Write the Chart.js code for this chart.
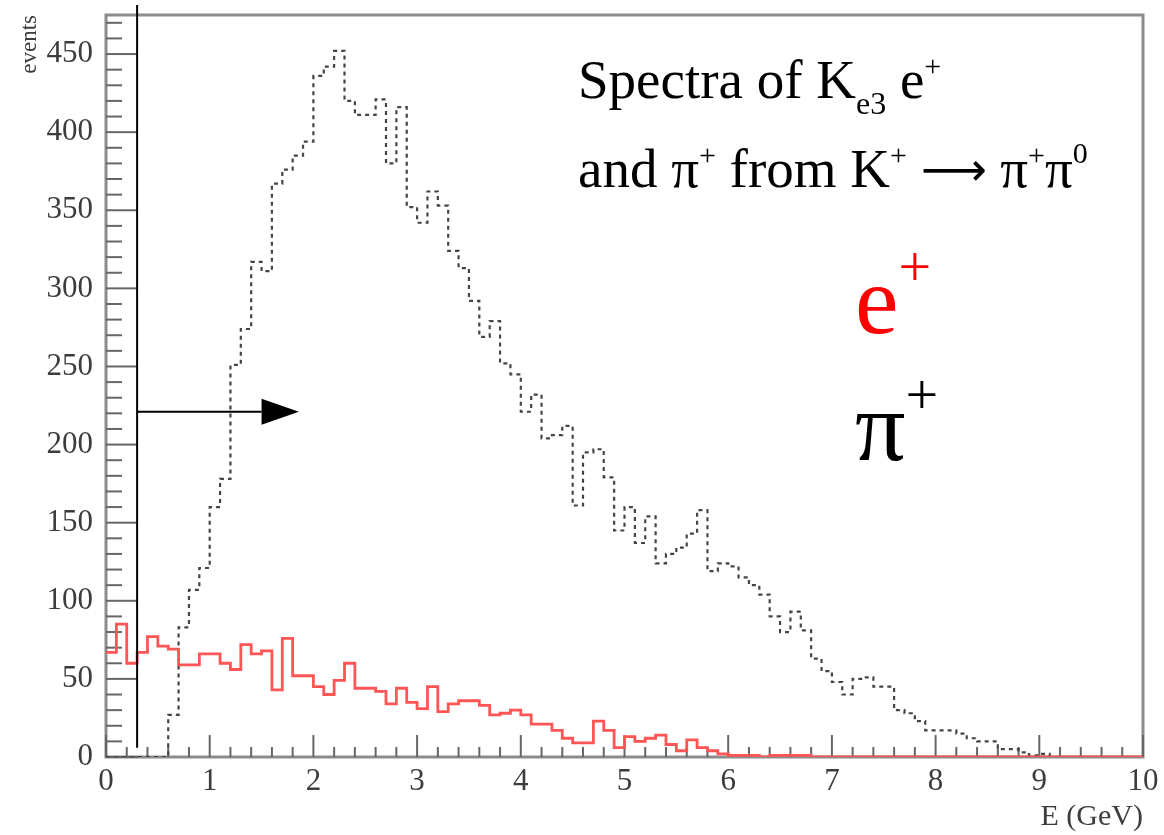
<!DOCTYPE html>
<html>
<head>
<meta charset="utf-8">
<script src="https://cdn.jsdelivr.net/npm/chart.js@4.4.1/dist/chart.umd.min.js"></script>
<style>
html, body { margin: 0; padding: 0; background: #fff; }
</style>
</head>
<body>
<canvas id="myChart" width="1164" height="835"></canvas>
<script>
// histogram bins: 100 bins of 0.1 GeV from 0 to 10
const bin_width = 0.1;
const x_ticks = [0, 1, 2, 3, 4, 5, 6, 7, 8, 9, 10];
const y_ticks = [0, 50, 100, 150, 200, 250, 300, 350, 400, 450];

// pi+ from K+ -> pi+ pi0 (dotted)
const pi_counts = [
  0, 0, 0, 0, 0, 0, 27, 83, 107, 121,
  160, 178, 251, 274, 317, 311, 367, 376, 385, 394,
  436, 442, 452, 420, 411, 411, 421, 380, 416, 352,
  342, 362, 353, 324, 313, 292, 269, 279, 252, 245,
  221, 232, 204, 206, 212, 161, 195, 197, 179, 145,
  160, 137, 154, 124, 130, 134, 143, 158, 119, 124,
  122, 115, 110, 104, 90, 80, 93, 81, 63, 55,
  48, 40, 50, 51, 45, 45, 30, 28, 23, 17,
  17, 17, 15, 12, 10, 10, 5, 5, 3, 1,
  2, 0, 0, 0, 0, 0, 0, 0, 0, 0
];

// Ke3 e+ (red)
const e_counts = [
  67, 85, 60, 67, 77, 71, 69, 59, 59, 66,
  66, 60, 56, 72, 66, 68, 43, 76, 52, 52,
  45, 40, 49, 60, 44, 44, 42, 34, 44, 35,
  31, 45, 29, 34, 36, 36, 33, 27, 28, 30,
  27, 21, 21, 17, 12, 9, 9, 23, 17, 6,
  13, 10, 12, 14, 8, 4, 11, 6, 4, 2,
  1, 1, 1, 0, 1, 1, 1, 1, 0, 0,
  0, 0, 0, 0, 0, 0, 0, 0, 0, 0,
  0, 0, 0, 0, 0, 0, 0, 0, 0, 0,
  0, 0, 0, 0, 0, 0, 0, 0, 0, 0
];

// cut line and arrow (in axis units)
const cut_energy = 0.3;
const cut_bottom = 6;
const arrow_level = 221;
const arrow_head_start = 1.5;
const arrow_tip = 1.86;

const serif = '"Liberation Serif", "DejaVu Serif", serif';

function to_points(counts) {
  pts = [];
  for (i = 0; i < counts.length; i++) {
    pts.push({x: i * bin_width, y: counts[i]});
  }
  pts.push({x: counts.length * bin_width, y: counts[counts.length - 1]});
  return pts;
}

function draw_rich(ctx, x, y, parts, color) {
  ctx.fillStyle = color;
  ctx.textAlign = 'left';
  ctx.textBaseline = 'alphabetic';
  for (const p of parts) {
    ctx.font = p[1] + 'px ' + (p[3] || serif);
    ctx.fillText(p[0], x, y + (p[2] || 0));
    x += ctx.measureText(p[0]).width;
  }
}

const root_frame = {
  id: 'root_frame',
  beforeDatasetsDraw: (chart) => {
    const ctx = chart.ctx;
    const a = chart.chartArea;
    const xs = chart.scales.x, ys = chart.scales.y;
    ctx.save();
    ctx.strokeStyle = '#8c8c8c';
    ctx.lineWidth = 3;
    ctx.strokeRect(a.left, a.top, a.right - a.left, a.bottom - a.top);
    ctx.strokeStyle = '#666';
    ctx.lineWidth = 2;
    // x ticks inside, major each 1, minor each 0.2
    for (i = 0; i <= 50; i++) {
      const px = xs.getPixelForValue(i * 0.2);
      const len = (i % 5 == 0) ? 22 : 10;
      ctx.beginPath();
      ctx.moveTo(px, a.bottom);
      ctx.lineTo(px, a.bottom - len);
      ctx.stroke();
    }
    // y ticks inside, major each 50, minor each 10
    for (i = 0; i * 10 <= ys.max; i++) {
      const py = ys.getPixelForValue(i * 10);
      const len = (i % 5 == 0) ? 32 : 16;
      ctx.beginPath();
      ctx.moveTo(a.left, py);
      ctx.lineTo(a.left + len, py);
      ctx.stroke();
    }
    ctx.restore();
  },
  afterDatasetsDraw: (chart) => {
    const ctx = chart.ctx;
    const a = chart.chartArea;
    const xs = chart.scales.x, ys = chart.scales.y;
    ctx.save();
    // cut line
    const cx = xs.getPixelForValue(cut_energy);
    ctx.strokeStyle = '#000';
    ctx.lineWidth = 2;
    ctx.beginPath();
    ctx.moveTo(cx, a.top - 10);
    ctx.lineTo(cx, ys.getPixelForValue(cut_bottom));
    ctx.stroke();
    // arrow
    const ay = ys.getPixelForValue(arrow_level);
    const hx = xs.getPixelForValue(arrow_head_start);
    const tx = xs.getPixelForValue(arrow_tip);
    ctx.beginPath();
    ctx.moveTo(cx, ay);
    ctx.lineTo(hx, ay);
    ctx.stroke();
    ctx.fillStyle = '#000';
    ctx.beginPath();
    ctx.moveTo(tx, ay);
    ctx.lineTo(hx, ay - 13);
    ctx.lineTo(hx, ay + 13);
    ctx.closePath();
    ctx.fill();

    // captions
    draw_rich(ctx, 578, 98, [['Spectra of K', 55], ['e3', 32, 16], [' e', 55], ['+', 30, -22]], '#000');
    draw_rich(ctx, 578, 187, [['and π', 55], ['+', 30, -22], [' from K', 55], ['+', 30, -22],
      [' ', 55], ['⟶', 46, -2, '"DejaVu Sans", sans-serif'], [' π', 55], ['+', 30, -22], ['π', 55], ['0', 30, -24]], '#000');
    draw_rich(ctx, 855, 333, [['e', 98], ['+', 58, -47]], '#ff0000');
    draw_rich(ctx, 855, 460, [['π', 100], ['+', 58, -46]], '#000');
    ctx.restore();
  }
};

var the_chart_canvas = document.getElementById('myChart').getContext('2d');
var myChart = new Chart(the_chart_canvas, {
  type: 'line',
  data: {
    datasets: [
      {
        label: 'e+',
        data: to_points(e_counts),
        stepped: 'before',
        borderColor: '#ff5555',
        borderWidth: 2.8,
        pointRadius: 0,
        fill: false,
      },
      {
        label: 'pi+',
        data: to_points(pi_counts),
        stepped: 'before',
        borderColor: '#444',
        borderWidth: 2.2,
        borderDash: [4, 4],
        pointRadius: 0,
        fill: false,
      }
    ]
  },
  options: {
    responsive: false,
    animation: false,
    events: [],
    layout: {padding: {top: 15, right: 21, left: 0, bottom: 0}},
    plugins: {legend: {display: false}, tooltip: {enabled: false}},
    scales: {
      x: {
        type: 'linear',
        min: 0,
        max: 10,
        afterFit: (s) => { s.height = 78; s.paddingLeft = 0; s.paddingRight = 0; },
        afterBuildTicks: (s) => { s.ticks = x_ticks.map(v => ({value: v})); },
        grid: {display: false, drawTicks: false},
        border: {display: false},
        ticks: {font: {family: serif, size: 31}, color: '#3c3c3c', padding: 6, maxRotation: 0},
        title: {display: true, text: 'E (GeV)', align: 'end', font: {family: serif, size: 30},
          color: '#3c3c3c', padding: {top: 0, bottom: 0}}
      },
      y: {
        type: 'linear',
        min: 0,
        max: 475,
        afterFit: (s) => { s.width = 106; s.paddingTop = 0; s.paddingBottom = 0; },
        afterBuildTicks: (s) => { s.ticks = y_ticks.map(v => ({value: v})); },
        grid: {display: false, drawTicks: false},
        border: {display: false},
        ticks: {font: {family: serif, size: 31}, color: '#3c3c3c', padding: 13},
        title: {display: true, text: 'events', align: 'end', font: {family: serif, size: 23},
          color: '#3c3c3c', padding: {top: 16, bottom: 0}}
      }
    }
  },
  plugins: [root_frame],
});
</script>
</body>
</html>
